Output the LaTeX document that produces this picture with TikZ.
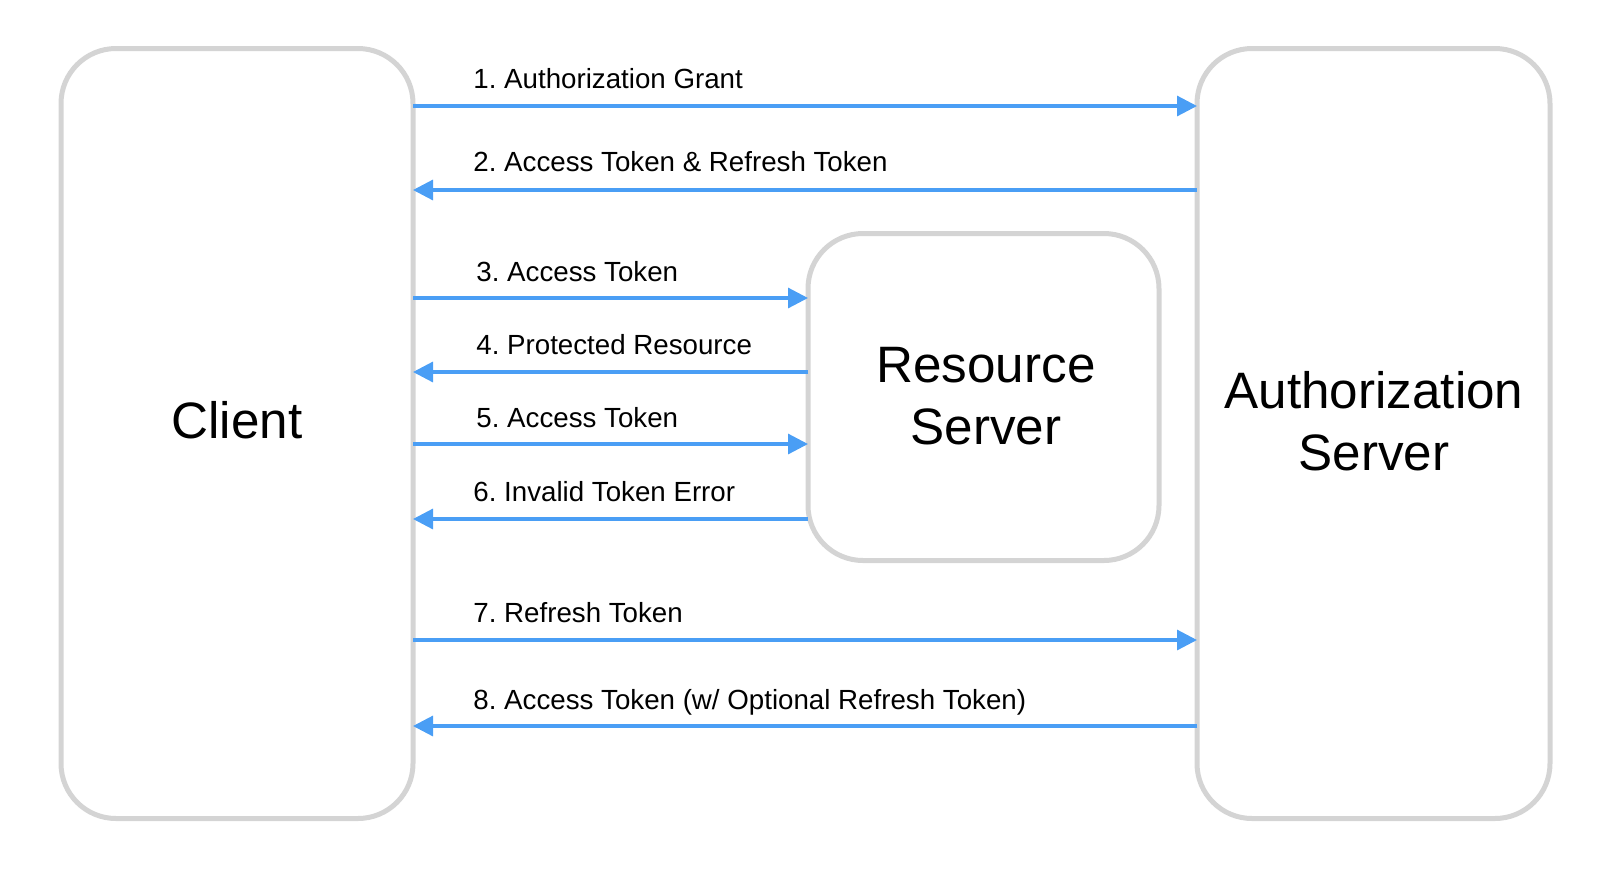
\documentclass[tikz,border=0pt]{standalone}
\usepackage{fontspec}
\setmainfont{Liberation Sans}
\usetikzlibrary{arrows.meta}
\definecolor{boxgray}{RGB}{212,212,212}
\definecolor{arrowblue}{RGB}{74,158,245}
\frenchspacing
\tikzset{
  box/.style={draw=boxgray, line width=2.5pt, rounded corners=27.5pt, outer sep=0pt, inner sep=0pt, fill=white},
  msg/.style={draw=arrowblue, line width=1.6pt, -{Triangle[length=10pt,width=10pt]}},
  lbl/.style={anchor=base west, inner sep=0pt, font=\fontsize{13.85pt}{16pt}\selectfont},
  big/.style={align=center, inner sep=0pt, font=\fontsize{25.6pt}{31.3pt}\selectfont},
}
\begin{document}
\begin{tikzpicture}[x=0.5pt,y=-0.5pt]
\useasboundingbox (0,0) rectangle (1608,874);
% boxes
\node[box, minimum width=176pt, minimum height=385pt] (client) at (237,433.5) {};
\node[box, minimum width=176.5pt, minimum height=385pt] (auth) at (1373.5,433.5) {};
\node[box, minimum width=175.5pt, minimum height=163.5pt] (res) at (983.5,397) {};
% titles
\node[big, anchor=base] (clientT) at (237,438) {Client};
\node[big, anchor=center] (resT) at (986,396) {Resource\\Server};
\node[big, anchor=center] (authT) at (1374,421) {Authorization\\Server};
% messages
\draw[msg] (client.east |- 0,106) -- (auth.west |- 0,106);
\node[lbl] (l1) at (473,88) {1. Authorization Grant};
\draw[msg] (auth.west |- 0,190) -- (client.east |- 0,190);
\node[lbl] (l2) at (473,171) {2. Access Token \& Refresh Token};
\draw[msg] (client.east |- 0,298) -- (res.west |- 0,298);
\node[lbl] (l3) at (476,281) {3. Access Token};
\draw[msg] (res.west |- 0,372) -- (client.east |- 0,372);
\node[lbl] (l4) at (476,354) {4. Protected Resource};
\draw[msg] (client.east |- 0,444) -- (res.west |- 0,444);
\node[lbl] (l5) at (476,427) {5. Access Token};
\draw[msg] (res.west |- 0,519) -- (client.east |- 0,519);
\node[lbl] (l6) at (473,501) {6. Invalid Token Error};
\draw[msg] (client.east |- 0,640) -- (auth.west |- 0,640);
\node[lbl] (l7) at (473,622) {7. Refresh Token};
\draw[msg] (auth.west |- 0,726) -- (client.east |- 0,726);
\node[lbl] (l8) at (473,709) {8. Access Token (w/ Optional Refresh Token)};
\end{tikzpicture}
\end{document}
